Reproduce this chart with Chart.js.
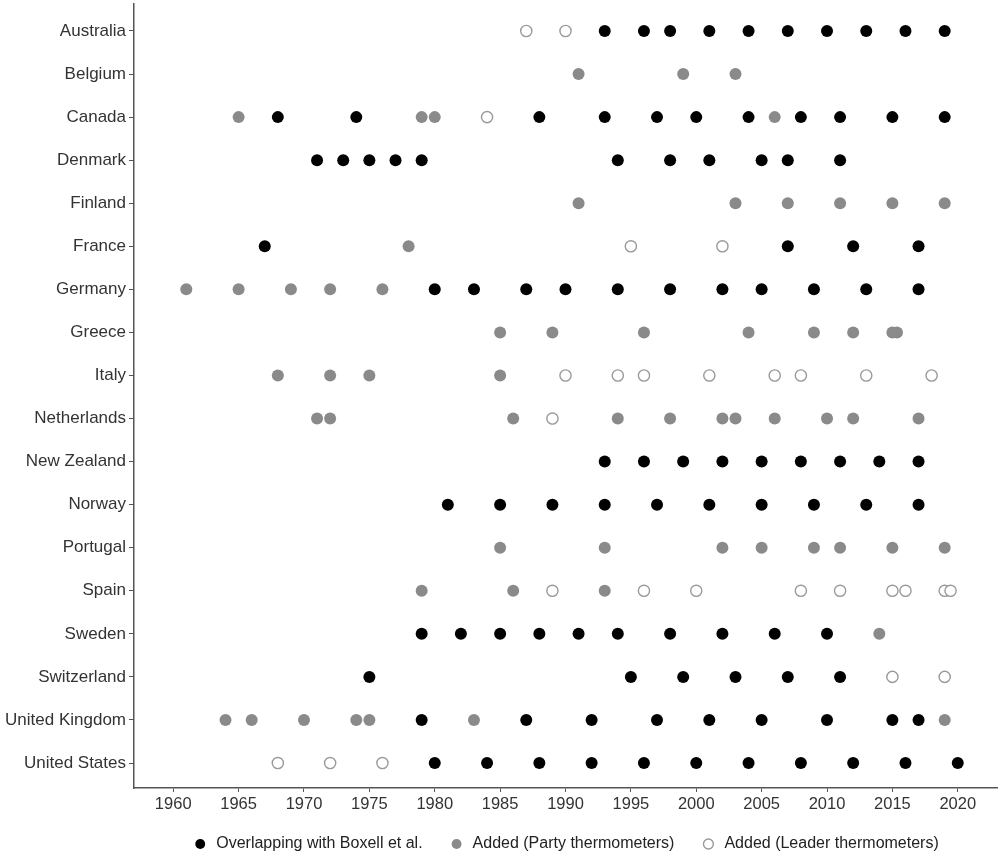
<!DOCTYPE html>
<html>
<head>
<meta charset="utf-8">
<script src="https://cdn.jsdelivr.net/npm/chart.js@4/dist/chart.umd.min.js"></script>
<style>
  html, body { margin: 0; padding: 0; background: #fff; }
  #wrap { width: 1000px; height: 862px; }
</style>
</head>
<body>
<div id="wrap"><canvas id="c" width="1000" height="862"></canvas></div>
<script>
// ---- data ----
const countries = ["Australia","Belgium","Canada","Denmark","Finland","France","Germany","Greece","Italy",
  "Netherlands","New Zealand","Norway","Portugal","Spain","Sweden","Switzerland","United Kingdom","United States"];

const seriesNames = ["Overlapping with Boxell et al.", "Added (Party thermometers)", "Added (Leader thermometers)"];

// years per country (same order as countries)
const overlapYears = [
  [1993,1996,1998,2001,2004,2007,2010,2013,2016,2019],        // Australia
  [],                                                         // Belgium
  [1968,1974,1988,1993,1997,2000,2004,2008,2011,2015,2019],   // Canada
  [1971,1973,1975,1977,1979,1994,1998,2001,2005,2007,2011],   // Denmark
  [],                                                         // Finland
  [1967,2007,2012,2017],                                      // France
  [1980,1983,1987,1990,1994,1998,2002,2005,2009,2013,2017],   // Germany
  [],                                                         // Greece
  [],                                                         // Italy
  [],                                                         // Netherlands
  [1993,1996,1999,2002,2005,2008,2011,2014,2017],             // New Zealand
  [1981,1985,1989,1993,1997,2001,2005,2009,2013,2017],        // Norway
  [],                                                         // Portugal
  [],                                                         // Spain
  [1979,1982,1985,1988,1991,1994,1998,2002,2006,2010],        // Sweden
  [1975,1995,1999,2003,2007,2011],                            // Switzerland
  [1979,1987,1992,1997,2001,2005,2010,2015,2017],             // United Kingdom
  [1980,1984,1988,1992,1996,2000,2004,2008,2012,2016,2020]    // United States
];

const partyYears = [
  [],
  [1991,1999,2003],
  [1965,1979,1980,2006],
  [],
  [1991,2003,2007,2011,2015,2019],
  [1978],
  [1961,1965,1969,1972,1976],
  [1985,1989,1996,2004,2009,2012,2015,2015.35],
  [1968,1972,1975,1985],
  [1971,1972,1986,1994,1998,2002,2003,2006,2010,2012,2017],
  [],
  [],
  [1985,1993,2002,2005,2009,2011,2015,2019],
  [1979,1986,1993],
  [2014],
  [],
  [1964,1966,1970,1974,1975,1983,2019],
  []
];

const leaderYears = [
  [1987,1990],
  [],
  [1984],
  [],
  [],
  [1995,2002],
  [],
  [],
  [1990,1994,1996,2001,2006,2008,2013,2018],
  [1989],
  [],
  [],
  [],
  [1989,1996,2000,2008,2011,2015,2016,2019,2019.45],
  [],
  [2015,2019],
  [],
  [1968,1972,1976]
];

const xTickYears = [1960,1965,1970,1975,1980,1985,1990,1995,2000,2005,2010,2015,2020];

// ---- build ----
function toPoints(yearLists) {
  const pts = [];
  yearLists.forEach((ys, i) => ys.forEach(y => pts.push({ x: y, y: i })));
  return pts;
}

Chart.defaults.font.family = "'Liberation Sans', Arial, sans-serif";
Chart.defaults.color = '#333';

const tickColor = '#555';

new Chart(document.getElementById('c'), {
  type: 'scatter',
  data: {
    datasets: [
      {
        label: seriesNames[0],
        data: toPoints(overlapYears),
        pointStyle: 'circle',
        pointRadius: 6,
        pointBackgroundColor: '#000',
        pointBorderColor: '#000',
        pointBorderWidth: 0,
        backgroundColor: '#000',
        borderColor: '#000',
        clip: false
      },
      {
        label: seriesNames[1],
        data: toPoints(partyYears),
        pointStyle: 'circle',
        pointRadius: 6,
        pointBackgroundColor: '#8a8a8a',
        pointBorderColor: '#8a8a8a',
        pointBorderWidth: 0,
        backgroundColor: '#8a8a8a',
        borderColor: '#8a8a8a',
        clip: false
      },
      {
        label: seriesNames[2],
        data: toPoints(leaderYears),
        pointStyle: 'circle',
        pointRadius: 5.6,
        pointBackgroundColor: '#fff',
        pointBorderColor: '#999',
        pointBorderWidth: 1.4,
        backgroundColor: '#fff',
        borderColor: '#999',
        borderWidth: 1.4,
        clip: false
      }
    ]
  },
  options: {
    responsive: false,
    animation: false,
    devicePixelRatio: 1,
    layout: { autoPadding: false, padding: { top: 4, right: 3, left: 0, bottom: 0 } },
    plugins: {
      tooltip: { enabled: false },
      legend: {
        position: 'bottom',
        fullSize: false,
        labels: {
          usePointStyle: true,
          boxWidth: 16,
          boxHeight: 7,
          padding: 26,
          color: '#222',
          font: { size: 16 }
        }
      }
    },
    scales: {
      x: {
        type: 'linear',
        min: 1957,
        max: 2023,
        afterBuildTicks: (s) => { s.ticks = xTickYears.map(v => ({ value: v })); },
        afterFit: (s) => { s.height = 22; s.paddingLeft = 0; s.paddingRight = 0; },
        border: { display: true, color: tickColor, width: 1.5 },
        grid: { display: true, drawOnChartArea: false, drawTicks: true, tickLength: 4, tickColor: tickColor },
        ticks: { color: '#333', padding: 3, font: { size: 16.5 }, maxRotation: 0, autoSkip: false,
          callback: (v) => String(v) }
      },
      y: {
        type: 'linear',
        reverse: true,
        min: -0.627,
        max: 17.58,
        afterBuildTicks: (s) => { s.ticks = countries.map((c, i) => ({ value: i })); },
        afterFit: (s) => { s.width = 134; s.paddingTop = 0; s.paddingBottom = 0; },
        border: { display: true, color: tickColor, width: 1.5 },
        grid: { display: true, drawOnChartArea: false, drawTicks: true, tickLength: 5, tickColor: tickColor },
        ticks: { color: '#333', padding: 3, font: { size: 17 }, autoSkip: false,
          callback: (v) => countries[v] }
      }
    }
  }
});
</script>
</body>
</html>
